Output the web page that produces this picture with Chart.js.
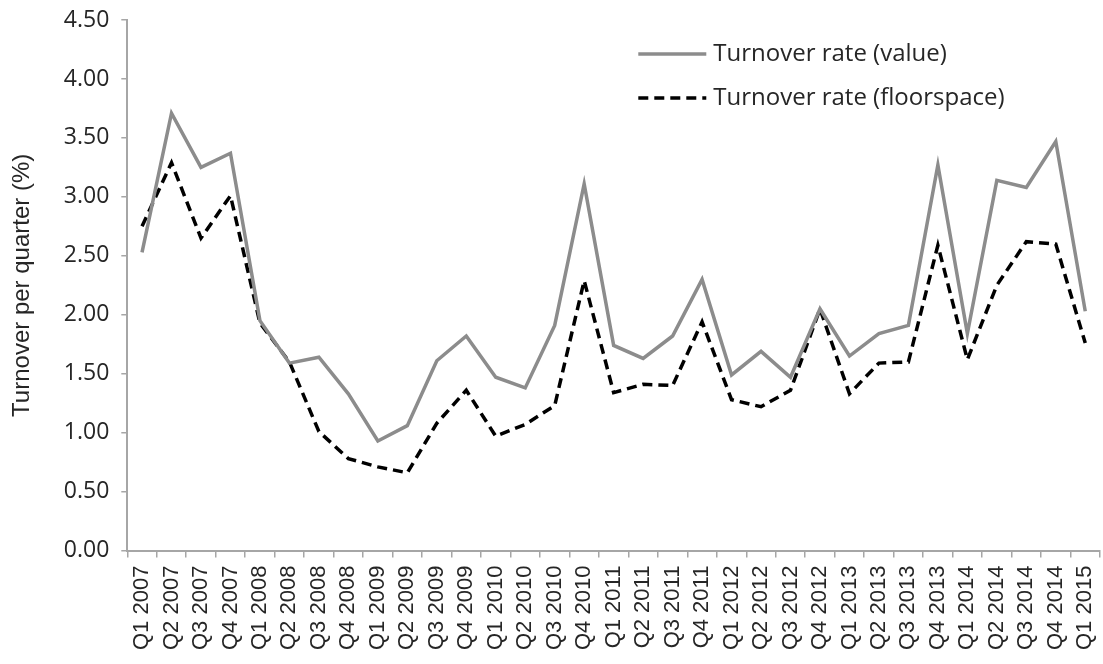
<!DOCTYPE html>
<html>
<head>
<meta charset="utf-8">
<script src="https://cdn.jsdelivr.net/npm/chart.js@4/dist/chart.umd.min.js"></script>
<style>
  body { margin: 0; background: #fff; }
  #wrap { width: 1103px; height: 664px; }
</style>
</head>
<body>
<div id="wrap"><canvas id="turnover-chart" width="1103" height="664"></canvas></div>
<script>
var quarters = ['Q1 2007','Q2 2007','Q3 2007','Q4 2007','Q1 2008','Q2 2008','Q3 2008','Q4 2008',
  'Q1 2009','Q2 2009','Q3 2009','Q4 2009','Q1 2010','Q2 2010','Q3 2010','Q4 2010',
  'Q1 2011','Q2 2011','Q3 2011','Q4 2011','Q1 2012','Q2 2012','Q3 2012','Q4 2012',
  'Q1 2013','Q2 2013','Q3 2013','Q4 2013','Q1 2014','Q2 2014','Q3 2014','Q4 2014','Q1 2015'];
var valueRate = [2.53, 3.71, 3.25, 3.37, 1.95, 1.59, 1.64, 1.33, 0.93, 1.06, 1.61, 1.82, 1.47, 1.38, 1.91, 3.11,
  1.74, 1.63, 1.82, 2.30, 1.49, 1.69, 1.47, 2.05, 1.65, 1.84, 1.91, 3.27, 1.84, 3.14, 3.08, 3.47, 2.03];
var floorRate = [2.75, 3.29, 2.65, 3.01, 1.93, 1.60, 1.01, 0.78, 0.71, 0.66, 1.08, 1.36, 0.97, 1.07, 1.23, 2.29,
  1.34, 1.41, 1.40, 1.94, 1.28, 1.22, 1.36, 2.05, 1.33, 1.59, 1.60, 2.59, 1.62, 2.25, 2.62, 2.60, 1.76];
var yTicks = [0, 0.5, 1, 1.5, 2, 2.5, 3, 3.5, 4, 4.5];

var axisColor = '#a6a6a6';
var textColor = '#262626';

// legend drawn inside the plot, top right, stacked
var legendInPlot = {
    id: 'legendInPlot',
    afterDraw: function(chart) {
        var ctx = chart.ctx;
        var area = chart.chartArea;
        var x0 = area.left + 511;
        var y0 = area.top + 34;
        chart.data.datasets.forEach(function(ds, i) {
            var y = y0 + i * 44;
            ctx.save();
            ctx.strokeStyle = ds.borderColor;
            ctx.lineWidth = ds.borderWidth;
            ctx.setLineDash(ds.borderDash || []);
            ctx.beginPath();
            ctx.moveTo(x0, y);
            ctx.lineTo(x0 + 68, y);
            ctx.stroke();
            ctx.setLineDash([]);
            ctx.fillStyle = textColor;
            ctx.font = '24px "Open Sans"';
            ctx.textBaseline = 'middle';
            ctx.fillText(ds.label, x0 + 75, y);
            ctx.restore();
        });
    }
};

new Chart(document.getElementById('turnover-chart'), {
    type: 'line',
    data: {
        labels: quarters,
        datasets: [{
            label: 'Turnover rate (value)',
            data: valueRate,
            borderColor: '#8c8c8c',
            borderWidth: 3.5,
            pointRadius: 0,
            tension: 0
        }, {
            label: 'Turnover rate (floorspace)',
            data: floorRate,
            borderColor: '#000000',
            borderWidth: 3.5,
            borderDash: [10, 6],
            pointRadius: 0,
            tension: 0
        }]
    },
    options: {
        responsive: false,
        animation: false,
        layout: { padding: { top: 20, right: 3, left: 8, bottom: 6 } },
        plugins: {
            legend: { display: false },
            tooltip: { enabled: false }
        },
        scales: {
            x: {
                offset: true,
                afterFit: function(scale) {
                    // let the plot run to the right edge like the original
                    scale.paddingRight = 0;
                },
                grid: { offset: true, drawOnChartArea: false, tickLength: 7, color: axisColor, lineWidth: 1.5 },
                border: { color: axisColor, width: 2 },
                ticks: {
                    autoSkip: false,
                    minRotation: 90,
                    maxRotation: 90,
                    padding: 8,
                    color: textColor,
                    font: { family: '"Liberation Sans", Arial', size: 22 }
                }
            },
            y: {
                min: 0,
                max: 4.5,
                afterBuildTicks: function(scale) {
                    scale.ticks = yTicks.map(function(v) { return { value: v }; });
                },
                afterFit: function(scale) {
                    scale.paddingTop = 0;
                    scale.paddingBottom = 0;
                },
                grid: { drawOnChartArea: false, tickLength: 6, color: axisColor, lineWidth: 1.5 },
                border: { color: axisColor, width: 2 },
                ticks: {
                    padding: 12,
                    color: textColor,
                    font: { family: '"Open Sans"', size: 23 },
                    callback: function(v) { return Number(v).toFixed(2); }
                },
                title: {
                    display: true,
                    text: 'Turnover per quarter (%)',
                    color: textColor,
                    padding: { top: 0, bottom: 15 },
                    font: { family: '"Liberation Sans", Arial', size: 24 }
                }
            }
        }
    },
    plugins: [legendInPlot]
});
</script>
</body>
</html>
